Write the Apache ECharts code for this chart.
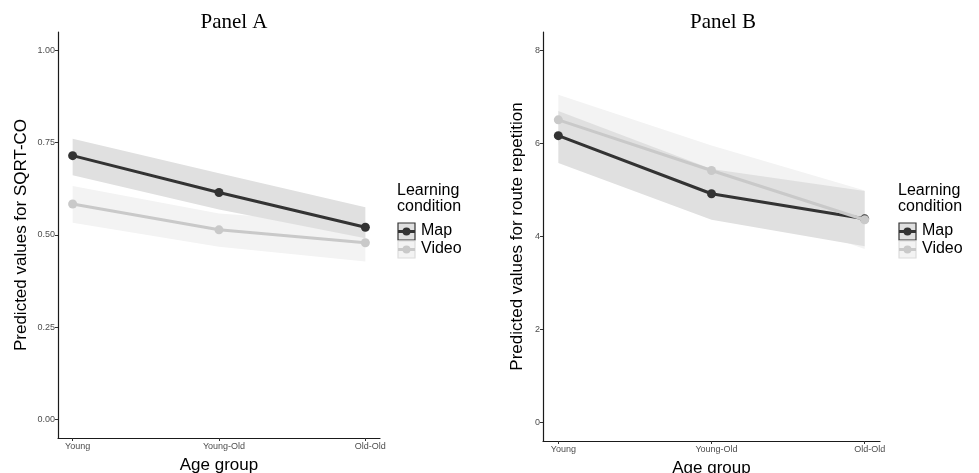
<!DOCTYPE html>
<html>
<head>
<meta charset="utf-8">
<script src="https://cdn.jsdelivr.net/npm/echarts@6/dist/echarts.min.js"></script>
<style>
html,body{margin:0;padding:0;background:#fff;}
#chart{width:979px;height:473px;}
</style>
</head>
<body>
<div id="chart"></div>
<script>
// ---- Data ----
const categories = ['Young', 'Young-Old', 'Old-Old'];
const xPos = [1, 2, 3];

// Panel A: SQRT-CO
const aMap = [0.715, 0.615, 0.521];
const aMapLower = [0.662, 0.569, 0.491];
const aMapUpper = [0.761, 0.667, 0.575];
const aVideo = [0.584, 0.514, 0.479];
const aVideoLower = [0.533, 0.468, 0.428];
const aVideoUpper = [0.633, 0.558, 0.530];
const aTicks = [0, 0.25, 0.5, 0.75, 1.0];

// Panel B: route repetition
const bMap = [6.17, 4.92, 4.38];
const bMapLower = [5.58, 4.36, 3.79];
const bMapUpper = [6.70, 5.45, 4.98];
const bVideo = [6.51, 5.42, 4.36];
const bVideoLower = [5.97, 4.88, 3.73];
const bVideoUpper = [7.05, 5.96, 4.99];
const bTicks = [0, 2, 4, 6, 8];

const legendTitle = ['Learning', 'condition'];
const legendNames = ['Map', 'Video'];

// ---- Styles ----
const MAP_COLOR = '#333333';
const VIDEO_COLOR = '#c9c9c9';
const MAP_BAND = '#e0e0e0';
const VIDEO_BAND = '#f3f3f3';
const SANS = '"Liberation Sans", Arial, sans-serif';
const SERIF = '"Liberation Serif", "Times New Roman", serif';

const chart = echarts.init(document.getElementById('chart'));

function xAxisDef(gridIndex) {
  return {
    type: 'value', gridIndex: gridIndex, min: 0.9, max: 3.1,
    splitLine: {show: false},
    axisLine: {show: true, onZero: false, lineStyle: {color: '#1a1a1a', width: 1.2}},
    axisTick: {show: true, customValues: xPos, length: 3, lineStyle: {color: '#333', width: 1}},
    axisLabel: {
      customValues: xPos, color: '#4d4d4d', fontSize: 9, fontFamily: SANS,
      margin: 4, padding: [0, 0, 0, 10],
      formatter: v => categories[Math.round(v) - 1]
    },
    name: 'Age group', nameLocation: 'middle', nameGap: 19,
    nameTextStyle: {fontSize: 17, color: '#000', fontFamily: SANS, verticalAlign: 'top'}
  };
}
function yAxisDef(gridIndex, min, max, ticks, name, gap, fmt) {
  return {
    type: 'value', gridIndex: gridIndex, min: min, max: max,
    splitLine: {show: false},
    axisLine: {show: true, onZero: false, lineStyle: {color: '#1a1a1a', width: 1.2}},
    axisTick: {show: true, customValues: ticks, length: 3, lineStyle: {color: '#333', width: 1}},
    axisLabel: {customValues: ticks, color: '#4d4d4d', fontSize: 9, fontFamily: SANS, margin: 3, formatter: fmt},
    name: name, nameLocation: 'middle', nameRotate: 90, nameGap: gap,
    nameTextStyle: {fontSize: 17, color: '#000', fontFamily: SANS}
  };
}

function bandSeries(idx, lower, upper, color, z) {
  return {
    type: 'custom', xAxisIndex: idx, yAxisIndex: idx, z: z, silent: true,
    data: [[2, (lower[1] + upper[1]) / 2]],
    renderItem: function (params, api) {
      const pts = [];
      for (let i = 0; i < xPos.length; i++) pts.push(api.coord([xPos[i], upper[i]]));
      for (let i = xPos.length - 1; i >= 0; i--) pts.push(api.coord([xPos[i], lower[i]]));
      return {type: 'polygon', shape: {points: pts}, style: {fill: color, stroke: null}};
    }
  };
}
function lineSeries(idx, name, vals, color, z) {
  return {
    type: 'line', name: name, xAxisIndex: idx, yAxisIndex: idx, z: z,
    data: xPos.map((x, i) => [x, vals[i]]),
    symbol: 'circle', symbolSize: 9, showSymbol: true,
    lineStyle: {color: color, width: 3},
    itemStyle: {color: color},
    emphasis: {disabled: true}
  };
}

function legendGraphics(x0) {
  const g = [];
  g.push({type: 'text', left: x0, top: 183, style: {text: legendTitle.join('\n'), fontSize: 16, lineHeight: 16, fill: '#000', fontFamily: SANS}});
  const keys = [
    {name: legendNames[0], line: MAP_COLOR, fill: MAP_BAND, border: MAP_COLOR, y: 223},
    {name: legendNames[1], line: VIDEO_COLOR, fill: VIDEO_BAND, border: '#dcdcdc', y: 241}
  ];
  keys.forEach(k => {
    g.push({type: 'rect', shape: {x: x0 + 1, y: k.y, width: 17, height: 17}, style: {fill: k.fill, stroke: k.border, lineWidth: 1.2}});
    g.push({type: 'line', shape: {x1: x0 + 1, y1: k.y + 8.5, x2: x0 + 18, y2: k.y + 8.5}, style: {stroke: k.line, lineWidth: 3}});
    g.push({type: 'circle', shape: {cx: x0 + 9.5, cy: k.y + 8.5, r: 4}, style: {fill: k.line}});
    g.push({type: 'text', left: x0 + 24, top: k.y, style: {text: k.name, fontSize: 16, fill: '#000', fontFamily: SANS}});
  });
  return g;
}

const option = {
  animation: false,
  backgroundColor: '#fff',
  title: [
    {text: 'Panel A', left: 229, top: 7, textAlign: 'center', textStyle: {fontFamily: SERIF, fontSize: 21, fontWeight: 'normal', color: '#000'}},
    {text: 'Panel B', left: 718, top: 7, textAlign: 'center', textStyle: {fontFamily: SERIF, fontSize: 21, fontWeight: 'normal', color: '#000'}}
  ],
  grid: [
    {left: 58, top: 32, width: 322, height: 406, containLabel: false, outerBoundsMode: 'none'},
    {left: 543, top: 32, width: 337, height: 409, containLabel: false, outerBoundsMode: 'none'}
  ],
  xAxis: [xAxisDef(0), xAxisDef(1)],
  yAxis: [
    yAxisDef(0, -0.05, 1.05, aTicks, 'Predicted values for SQRT-CO', 28, v => v.toFixed(2)),
    yAxisDef(1, -0.4, 8.4, bTicks, 'Predicted values for route repetition', 17, v => String(v))
  ],
  series: [
    bandSeries(0, aVideoLower, aVideoUpper, VIDEO_BAND, 1),
    bandSeries(0, aMapLower, aMapUpper, MAP_BAND, 2),
    lineSeries(0, 'Map', aMap, MAP_COLOR, 3),
    lineSeries(0, 'Video', aVideo, VIDEO_COLOR, 4),
    bandSeries(1, bVideoLower, bVideoUpper, VIDEO_BAND, 1),
    bandSeries(1, bMapLower, bMapUpper, MAP_BAND, 2),
    lineSeries(1, 'Map', bMap, MAP_COLOR, 3),
    lineSeries(1, 'Video', bVideo, VIDEO_COLOR, 4)
  ],
  graphic: legendGraphics(397).concat(legendGraphics(898))
};
chart.setOption(option);
</script>
</body>
</html>
